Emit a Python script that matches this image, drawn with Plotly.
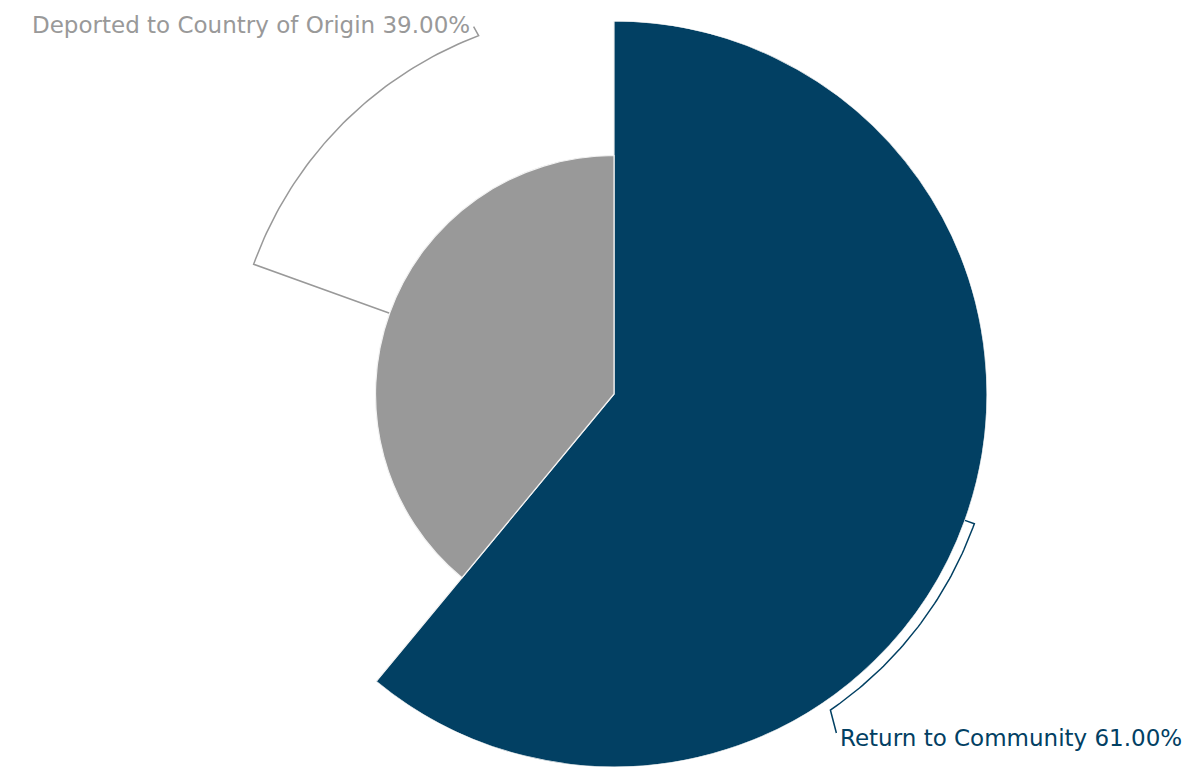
import numpy as np
import plotly.graph_objects as go

# ---- data ----
categories = ["Return to Community", "Deported to Country of Origin"]
values = [61.0, 39.0]
colors = ["#024063", "#999999"]

# ---- layout constants (pixels, figure coordinates) ----
W, H = 1204, 767
CX, CY = 606, 386          # pie centre (page adds 8px margin)
R = 373                    # polar radius in px
R_LEAD = 383               # radius of leader arcs
label_angles = [145.6, 339.3]   # where each leader arc ends (deg, clockwise from top)
label_offsets = [(6, 23), (-5, -9)]
label_anchor = ["left", "right"]
text_dx = [2, -2]
text_dy = [5, -2]

total = sum(values)
widths = [v / total * 360 for v in values]
starts = np.cumsum([0] + widths[:-1])
centers = [s + w / 2 for s, w in zip(starts, widths)]
px_per_unit = R / max(values)

fig = go.Figure()
fig.add_trace(go.Barpolar(
    r=values, theta=centers, width=widths,
    marker=dict(color=colors, line=dict(color="#f2f2f2", width=1.2)),
    text=categories, hoverinfo="text+r", showlegend=False,
))

def xy(r, ang):
    a = np.radians(ang)
    return CX + r * np.sin(a), CY - r * np.cos(a)

for i, (cat, v) in enumerate(zip(categories, values)):
    mid = centers[i]
    r0 = v * px_per_unit
    x0, y0 = xy(r0, mid)
    end = label_angles[i]
    d = (end - mid + 540) % 360 - 180
    angs = np.linspace(mid, mid + d, 60)
    ax_, ay_ = xy(R_LEAD, angs)
    xs = [x0] + list(ax_)
    ys = [y0] + list(ay_)
    ex, ey = xs[-1] + label_offsets[i][0], ys[-1] + label_offsets[i][1]
    xs.append(ex)
    ys.append(ey)
    fig.add_trace(go.Scatter(x=xs, y=ys, mode="lines",
                             line=dict(color=colors[i], width=1.5),
                             hoverinfo="skip", showlegend=False,
                             xaxis="x", yaxis="y"))
    fig.add_annotation(x=ex + text_dx[i], y=ey + text_dy[i],
                       xref="x", yref="y",
                       text=f"{cat} {v:.2f}%", showarrow=False,
                       xanchor=label_anchor[i], yanchor="middle",
                       font=dict(family="DejaVu Sans", size=23, color=colors[i]))

fig.update_layout(
    width=W, height=H,
    margin=dict(l=0, r=0, t=0, b=0),
    paper_bgcolor="white", plot_bgcolor="rgba(0,0,0,0)",
    polar=dict(
        domain=dict(x=[(CX - R) / W, (CX + R) / W], y=[(H - CY - R) / H, (H - CY + R) / H]),
        bgcolor="rgba(0,0,0,0)",
        radialaxis=dict(range=[0, max(values)], visible=False, showgrid=False),
        angularaxis=dict(rotation=90, direction="clockwise", visible=False, showgrid=False),
        bargap=0,
    ),
    xaxis=dict(range=[0, W], visible=False, domain=[0, 1], fixedrange=True),
    yaxis=dict(range=[H, 0], visible=False, domain=[0, 1], fixedrange=True),
)

fig.write_html("out.html")
